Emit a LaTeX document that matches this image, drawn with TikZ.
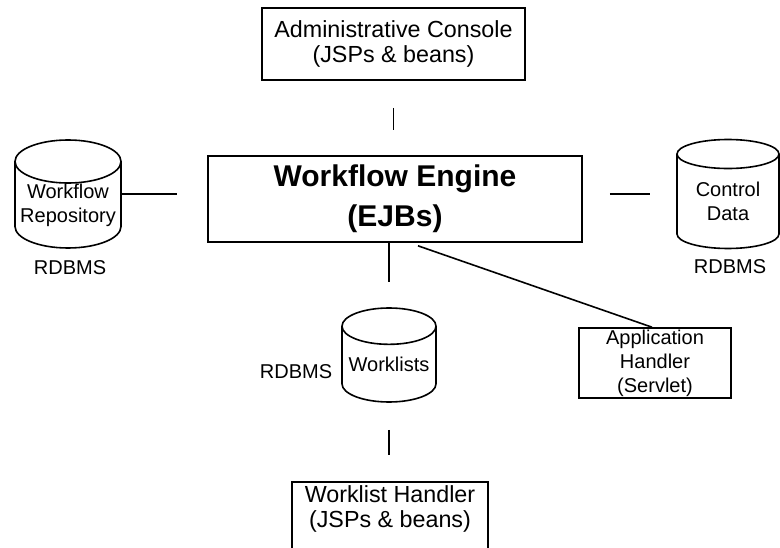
\documentclass[tikz,border=0pt]{standalone}
\usepackage{fontspec}
\setmainfont{Liberation Sans}
\usetikzlibrary{shapes.geometric}

\begin{document}
\begin{tikzpicture}[
  x=1pt, y=-1pt,
  box/.style={draw, rectangle, line width=1.6pt, align=center, inner sep=0pt},
  db/.style={cylinder, shape border rotate=90, draw, line width=1.6pt, aspect=0.45,
             align=center, inner sep=0pt, anchor=shape center, font=\fontsize{20}{24}\selectfont},
  link/.style={line width=1.6pt},
  bigtxt/.style={font=\fontsize{23.3}{25}\selectfont},
  smalltxt/.style={font=\fontsize{20}{24}\selectfont}
]
\useasboundingbox (0,0) rectangle (780,548);
\clip (0,0) rectangle (780,548);

% Engine in the middle
\node[box, minimum width=374pt, minimum height=86pt,
      font=\fontsize{30}{40}\selectfont\bfseries] (engine) at (395,199) {Workflow Engine\\(EJBs)};

% Consoles and handlers
\node[box, bigtxt, minimum width=263pt, minimum height=72pt] (console) at (393.5,44) {Administrative Console\\(JSPs \& beans)};
\node[box, smalltxt, minimum width=152pt, minimum height=70pt] (apphandler) at (655,363) {Application\\Handler\\(Servlet)};
\node[box, bigtxt, minimum width=196pt, anchor=north, text depth=50pt, inner ysep=4pt] (wlhandler) at (390,481) {Worklist Handler\\(JSPs \& beans)};

% Databases
\node[db, minimum width=106pt, minimum height=108pt] (repo) at (68,194) {Workflow\\Repository};
\node[db, minimum width=102pt, minimum height=109pt] (ctrl) at (728,194) {Control\\Data};
\node[db, minimum width=94pt, minimum height=94pt] (worklists) at (389,355) {Worklists};

\node[smalltxt] (repodbms) at (70,268) {RDBMS};
\node[smalltxt] (ctrldbms) at (730,267) {RDBMS};
\node[smalltxt] (wldbms) at (296,372) {RDBMS};

% Links (short pieces, not touching)
\draw[link, shorten <=27pt, shorten >=25pt] (console.south) -- (console.south |- engine.north);
\draw[link, shorten >=30pt] (repo.east |- repo.shape center) -- (repo.shape center -| engine.west);
\draw[link, shorten <=27pt, shorten >=26pt] (engine.east |- ctrl.shape center) -- (ctrl.west |- ctrl.shape center);
\draw[link, shorten >=25pt] (worklists.north |- engine.south) -- (worklists.north);
\draw[link, shorten <=27pt, shorten >=26pt] (worklists.south) -- (worklists.south |- wlhandler.north);
\draw[link] ([xshift=23pt,yshift=-3pt]engine.south) -- ([xshift=-3pt]apphandler.north);

\end{tikzpicture}
\end{document}
